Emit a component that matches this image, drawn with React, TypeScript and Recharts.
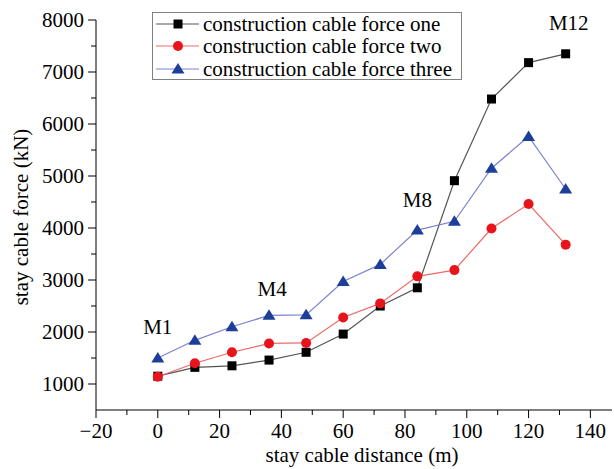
import React from "react";
import {
  LineChart,
  Line,
  XAxis,
  YAxis,
  Legend,
  Label,
  ReferenceDot,
} from "recharts";

// distance along the deck (m) and cable force for each construction stage (kN)
const distance = [0, 12, 24, 36, 48, 60, 72, 84, 96, 108, 120, 132];
const forceOne = [1150, 1320, 1350, 1460, 1610, 1960, 2500, 2850, 4910, 6480, 7180, 7350];
const forceTwo = [1140, 1400, 1610, 1780, 1790, 2280, 2550, 3070, 3190, 3990, 4460, 3680];
const forceThree = [1500, 1840, 2100, 2320, 2330, 2970, 3300, 3960, 4130, 5150, 5760, 4750];

const xTicks = [-20, -10, 0, 10, 20, 30, 40, 50, 60, 70, 80, 90, 100, 110, 120, 130, 140];
const yTicks = [1000, 1500, 2000, 2500, 3000, 3500, 4000, 4500, 5000, 5500, 6000, 6500, 7000, 7500, 8000];

// cable markers written on the plot
const markNames = ["M1", "M4", "M8", "M12"];
const markX = [0, 37, 84, 133];
const markY = [2100, 2840, 4545, 7950];

const FONT = "'Liberation Serif', 'Times New Roman', serif";

const data = distance.map((d, i) => ({
  distance: d,
  one: forceOne[i],
  two: forceTwo[i],
  three: forceThree[i],
}));

const series = [
  { key: "one", name: "construction cable force one", line: "#555555", mark: "#000000", shape: "square" },
  { key: "two", name: "construction cable force two", line: "#ee6a6a", mark: "#e8141c", shape: "circle" },
  { key: "three", name: "construction cable force three", line: "#7b83cf", mark: "#1d3f9a", shape: "triangle" },
];

const Marker = ({ cx, cy, shape, color }: any) => {
  if (shape === "square") {
    return <rect x={cx - 4.5} y={cy - 4.5} width={9} height={9} fill={color} />;
  }
  if (shape === "circle") {
    return <circle cx={cx} cy={cy} r={5} fill={color} />;
  }
  return (
    <polygon
      points={`${cx},${cy - 6} ${cx + 6.5},${cy + 4.5} ${cx - 6.5},${cy + 4.5}`}
      fill={color}
    />
  );
};

const fmt = (v: number) => (v < 0 ? `\u2212${Math.abs(v)}` : `${v}`);

const XTick = ({ x, y, payload }: any) => {
  const major = payload.value % 20 === 0;
  return (
    <g>
      <line x1={x} y1={y} x2={x} y2={y + (major ? 8 : 5)} stroke="#000" />
      {major && (
        <text x={x} y={y + 28} textAnchor="middle" fontSize={21} fontFamily={FONT} fill="#000">
          {fmt(payload.value)}
        </text>
      )}
    </g>
  );
};

const YTick = ({ x, y, payload }: any) => {
  const major = payload.value % 1000 === 0;
  return (
    <g>
      <line x1={x - (major ? 8 : 5)} y1={y} x2={x} y2={y} stroke="#000" />
      {major && (
        <text x={x - 12} y={y + 7} textAnchor="end" fontSize={21} fontFamily={FONT} fill="#000">
          {fmt(payload.value)}
        </text>
      )}
    </g>
  );
};

const renderLegend = () => (
  <div
    style={{
      width: 310,
      height: 68,
      boxSizing: "border-box",
      border: "1px solid #808080",
      background: "#fff",
      fontFamily: FONT,
      fontSize: 21,
      color: "#000",
    }}
  >
    {series.map((s) => (
      <div key={s.key} style={{ display: "flex", alignItems: "center", height: 22.3 }}>
        <svg width={48} height={22} style={{ flex: "none", marginLeft: 2 }}>
          <line x1={1} y1={11} x2={44} y2={11} stroke={s.line} strokeWidth={1.2} />
          <Marker cx={23} cy={11} shape={s.shape} color={s.mark} />
        </svg>
        <span style={{ whiteSpace: "nowrap", lineHeight: "22px" }}>{s.name}</span>
      </div>
    ))}
  </div>
);

export default function App() {
  return (
    <div style={{ position: "absolute", left: 0, top: 0, background: "#fff" }}>
      <LineChart
        width={614}
        height={469}
        data={data}
        margin={{ top: 20, right: 2, left: 0, bottom: 0 }}
      >
        <XAxis
          dataKey="distance"
          type="number"
          domain={[-20, 147]}
          ticks={xTicks}
          interval={0}
          height={59}
          tickSize={0}
          tickMargin={0}
          tickLine={false}
          tick={<XTick />}
          axisLine={{ stroke: "#000" }}
        >
          <Label
            content={() => (
              <text x={362} y={462} textAnchor="middle" fontSize={21} fontFamily={FONT} fill="#000">
                stay cable distance (m)
              </text>
            )}
          />
        </XAxis>
        <YAxis
          type="number"
          domain={[500, 8000]}
          ticks={yTicks}
          interval={0}
          width={96}
          tickSize={0}
          tickMargin={0}
          tickLine={false}
          tick={<YTick />}
          axisLine={{ stroke: "#000" }}
        >
          <Label
            content={() => (
              <text
                transform="translate(28, 217) rotate(-90)"
                textAnchor="middle"
                fontSize={21}
                fontFamily={FONT}
                fill="#000"
              >
                stay cable force (kN)
              </text>
            )}
          />
        </YAxis>
        <Legend
          layout="vertical"
          align="center"
          verticalAlign="middle"
          content={renderLegend}
          wrapperStyle={{ left: 152, top: 12, width: 310, height: 68 }}
        />
        {series.map((s) => (
          <Line
            key={s.key}
            dataKey={s.key}
            name={s.name}
            stroke={s.line}
            strokeWidth={1.2}
            isAnimationActive={false}
            dot={(p: any) => (
              <Marker key={`${s.key}-${p.index}`} cx={p.cx} cy={p.cy} shape={s.shape} color={s.mark} />
            )}
            activeDot={false}
          />
        ))}
        {markNames.map((m, i) => (
          <ReferenceDot
            key={m}
            x={markX[i]}
            y={markY[i]}
            r={1}
            fill="none"
            stroke="none"
            ifOverflow="visible"
            label={{ value: m, position: "center", fontSize: 21, fontFamily: FONT, fill: "#000" }}
          />
        ))}
      </LineChart>
    </div>
  );
}
